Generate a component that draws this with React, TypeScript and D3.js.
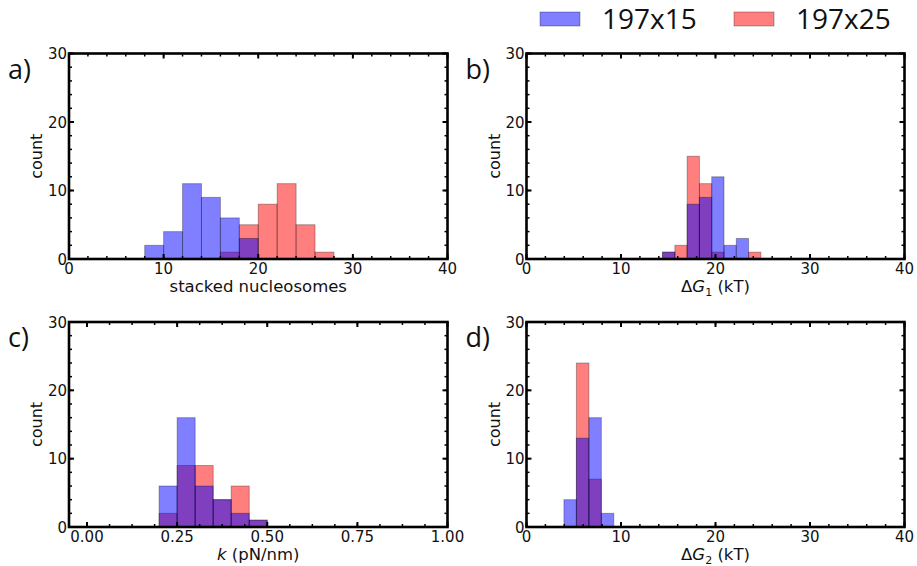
import * as d3 from "d3";

// histogram bin edges and counts
const seriesNames = ["197x15", "197x25"];

const stackedEdges = [8, 10, 12, 14, 16, 18, 20, 22, 24, 26, 28];
const stacked15 = [2, 4, 11, 9, 6, 3, 0, 0, 0, 0];
const stacked25 = [0, 0, 0, 0, 1, 5, 8, 11, 5, 1];

const dG1Edges = [14.4, 15.7, 17.0, 18.3, 19.6, 20.9, 22.2, 23.5, 24.8];
const dG1_15 = [1, 0, 8, 9, 12, 2, 3, 0];
const dG1_25 = [1, 2, 15, 11, 1, 0, 0, 1];

const kEdges = [0.2, 0.25, 0.3, 0.35, 0.4, 0.45, 0.5];
const k15 = [6, 16, 6, 4, 2, 1];
const k25 = [2, 9, 9, 4, 6, 1];

const dG2Edges = [3.96, 5.28, 6.6, 7.92, 9.24];
const dG2_15 = [4, 13, 16, 2];
const dG2_25 = [0, 24, 7, 0];

const countTicks = [0, 10, 20, 30];
const tens = [0, 10, 20, 30, 40];
const quarters = [0, 0.25, 0.5, 0.75, 1.0];

const BLUE = "#0000ff";
const RED = "#ff0000";
const TICK_FONT = "DejaVu Sans";

type PanelProps = {
  left: number;
  top: number;
  width: number;
  height: number;
  letter: string;
  xDomain: [number, number];
  xMajor: number[];
  xMinorStep: number;
  xFormat: (v: number) => string;
  edges: number[];
  blue: number[];
  red: number[];
  xLabel: React.ReactNode;
};

function Bars({ edges, counts, color, x, y }: any) {
  return (
    <g>
      {counts.map((c: number, i: number) => (
        <rect
          key={i}
          x={x(edges[i])}
          y={y(c)}
          width={x(edges[i + 1]) - x(edges[i])}
          height={y(0) - y(c)}
          fill={color}
          fillOpacity={0.5}
          stroke="#000"
          strokeOpacity={0.3}
          strokeWidth={1}
        />
      ))}
    </g>
  );
}

function Panel(p: PanelProps) {
  const x = d3.scaleLinear().domain(p.xDomain).range([p.left, p.left + p.width]);
  const y = d3.scaleLinear().domain([0, 30]).range([p.top + p.height, p.top]);
  const bottom = p.top + p.height;
  const right = p.left + p.width;

  const xMinor = d3
    .range(p.xMajor[0], p.xDomain[1] + 1e-9, p.xMinorStep)
    .filter((v) => v >= p.xDomain[0]);
  const yMinor = d3.range(0, 30.001, 2);

  const maj = 5;
  const min = 3;

  return (
    <g>
      <Bars edges={p.edges} counts={p.red} color={RED} x={x} y={y} />
      <Bars edges={p.edges} counts={p.blue} color={BLUE} x={x} y={y} />

      {/* inward ticks on all four sides */}
      <g stroke="#000">
        {xMinor.map((v, i) => (
          <g key={"xm" + i} strokeWidth={1.5}>
            <line x1={x(v)} x2={x(v)} y1={bottom} y2={bottom - min} />
            <line x1={x(v)} x2={x(v)} y1={p.top} y2={p.top + min} />
          </g>
        ))}
        {p.xMajor.map((v, i) => (
          <g key={"xM" + i} strokeWidth={2}>
            <line x1={x(v)} x2={x(v)} y1={bottom} y2={bottom - maj} />
            <line x1={x(v)} x2={x(v)} y1={p.top} y2={p.top + maj} />
          </g>
        ))}
        {yMinor.map((v, i) => (
          <g key={"ym" + i} strokeWidth={1.5}>
            <line x1={p.left} x2={p.left + min} y1={y(v)} y2={y(v)} />
            <line x1={right} x2={right - min} y1={y(v)} y2={y(v)} />
          </g>
        ))}
        {countTicks.map((v, i) => (
          <g key={"yM" + i} strokeWidth={2}>
            <line x1={p.left} x2={p.left + maj} y1={y(v)} y2={y(v)} />
            <line x1={right} x2={right - maj} y1={y(v)} y2={y(v)} />
          </g>
        ))}
      </g>

      <rect
        x={p.left}
        y={p.top}
        width={p.width}
        height={p.height}
        fill="none"
        stroke="#000"
        strokeWidth={2.6}
      />

      <g fontFamily={TICK_FONT} fontSize={15} fill="#111">
        {countTicks.map((v) => (
          <text key={"yl" + v} x={p.left - 2} y={y(v) + 5.5} textAnchor="end">
            {v}
          </text>
        ))}
        {p.xMajor.map((v) => (
          <text key={"xl" + v} x={x(v)} y={bottom + 15} textAnchor="middle">
            {p.xFormat(v)}
          </text>
        ))}
        <text
          transform={`translate(${p.left - 27},${p.top + p.height / 2}) rotate(-90)`}
          textAnchor="middle"
          fontSize={16}
        >
          count
        </text>
        <text x={p.left + p.width / 2} y={bottom + 33} textAnchor="middle" fontSize={16.5}>
          {p.xLabel}
        </text>
      </g>

      <text
        x={p.left - 61}
        y={p.top + 25}
        fontFamily="Open Sans"
        fontSize={27}
        fill="#111"
      >
        {p.letter}
      </text>
    </g>
  );
}

const fmtInt = (v: number) => d3.format("d")(v);
const fmt2 = (v: number) => d3.format(".2f")(v);

const dGLabel = (sub: string) => (
  <>
    <tspan>Δ</tspan>
    <tspan fontStyle="italic">G</tspan>
    <tspan fontSize={11} dy={3.5}>
      {sub}
    </tspan>
    <tspan dy={-3.5}> (kT)</tspan>
  </>
);

export default function App() {
  const legendX = [540, 734];
  return (
    <div style={{ position: "absolute", left: 0, top: 0 }}>
      <svg width={917} height={566} style={{ display: "block", background: "#fff" }}>
        {/* legend */}
        {seriesNames.map((name, i) => (
          <g key={name}>
            <rect
              x={legendX[i]}
              y={12}
              width={40}
              height={14}
              fill={i === 0 ? BLUE : RED}
              fillOpacity={0.5}
              stroke="#000"
              strokeOpacity={0.3}
            />
            <text
              x={legendX[i] + 62}
              y={28.5}
              fontFamily="Open Sans"
              fontSize={28}
              fill="#111"
            >
              {name}
            </text>
          </g>
        ))}

        <Panel
          left={69}
          top={53.5}
          width={378.5}
          height={205.5}
          letter="a)"
          xDomain={[0, 40]}
          xMajor={tens}
          xMinorStep={2}
          xFormat={fmtInt}
          edges={stackedEdges}
          blue={stacked15}
          red={stacked25}
          xLabel="stacked nucleosomes"
        />
        <Panel
          left={526.5}
          top={53.5}
          width={378}
          height={205.5}
          letter="b)"
          xDomain={[0, 40]}
          xMajor={tens}
          xMinorStep={2}
          xFormat={fmtInt}
          edges={dG1Edges}
          blue={dG1_15}
          red={dG1_25}
          xLabel={dGLabel("1")}
        />
        <Panel
          left={69}
          top={322}
          width={378.5}
          height={205}
          letter="c)"
          xDomain={[-0.05, 1.0]}
          xMajor={quarters}
          xMinorStep={0.0625}
          xFormat={fmt2}
          edges={kEdges}
          blue={k15}
          red={k25}
          xLabel={
            <>
              <tspan fontStyle="italic">k</tspan>
              <tspan> (pN/nm)</tspan>
            </>
          }
        />
        <Panel
          left={526.5}
          top={322}
          width={378}
          height={205}
          letter="d)"
          xDomain={[0, 40]}
          xMajor={tens}
          xMinorStep={2}
          xFormat={fmtInt}
          edges={dG2Edges}
          blue={dG2_15}
          red={dG2_25}
          xLabel={dGLabel("2")}
        />
      </svg>
    </div>
  );
}
